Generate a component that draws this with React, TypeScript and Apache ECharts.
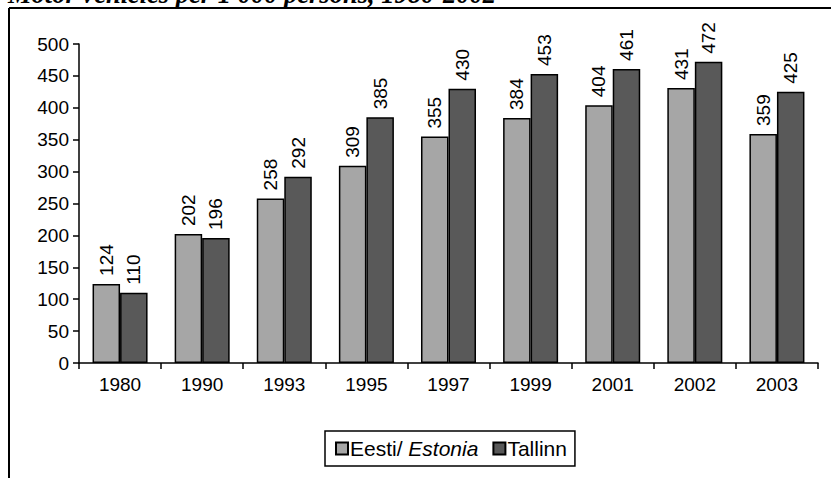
import React, { useEffect, useRef } from "react";
import * as echarts from "echarts";

const categories = ["1980", "1990", "1993", "1995", "1997", "1999", "2001", "2002", "2003"];
const estonia = [124, 202, 258, 309, 355, 384, 404, 431, 359];
const tallinn = [110, 196, 292, 385, 430, 453, 461, 472, 425];
const yTicks = { min: 0, max: 500, interval: 50 };
const titleText = "Motor vehicles per 1 000 persons, 1980-2002";

export default function App() {
  const ref = useRef<HTMLDivElement>(null);
  useEffect(() => {
    const chart = echarts.init(ref.current!, null, { renderer: "svg" });
    const font = "Liberation Sans, Arial, sans-serif";
    const fs = 19;
    const lfs = 21;
    const label = {
      show: true,
      position: "top",
      rotate: 90,
      align: "left",
      verticalAlign: "middle",
      distance: 8,
      color: "#000",
      fontSize: fs,
      fontFamily: font,
    };
    chart.setOption({
      animation: false,
      backgroundColor: "#fff",
      grid: { left: 79, top: 44, right: 13, bottom: 115 },
      graphic: [
        {
          type: "text",
          x: 8,
          y: -20,
          style: {
            text: titleText,
            font: "italic bold 26.5px 'Liberation Serif', 'Times New Roman', serif",
            fill: "#000",
          },
        },
        {
          type: "rect",
          shape: { x: 0, y: 8, width: 831, height: 2 },
          style: { fill: "#fff" },
        },
        {
          type: "line",
          shape: { x1: 9, y1: 8, x2: 831, y2: 8 },
          style: { stroke: "#000", lineWidth: 2 },
        },
        {
          type: "line",
          shape: { x1: 9, y1: 8, x2: 9, y2: 478 },
          style: { stroke: "#000", lineWidth: 2 },
        },
      ],
      legend: {
        left: 325,
        top: 431,
        padding: [7, 8, 7, 10],
        borderColor: "#000",
        borderWidth: 1.5,
        itemWidth: 12,
        itemHeight: 12,
        itemGap: 14,
        icon: "rect",
        textStyle: {
          fontSize: lfs,
          fontFamily: font,
          color: "#000",
          padding: [0, 0, 0, -3],
          rich: {
            n: { fontSize: lfs, fontFamily: font, color: "#000" },
            i: { fontSize: lfs, fontFamily: font, color: "#000", fontStyle: "italic" },
          },
        },
        formatter: (name: string) =>
          name === "Eesti/ Estonia" ? "{n|Eesti/ }{i|Estonia}" : "{n|" + name + "}",
        data: ["Eesti/ Estonia", "Tallinn"],
      },
      xAxis: {
        type: "category",
        data: categories,
        axisLine: { lineStyle: { color: "#000", width: 1.5 } },
        axisTick: { show: true, length: 6, lineStyle: { color: "#000", width: 1.5 } },
        axisLabel: { color: "#000", fontSize: fs, fontFamily: font, margin: 12 },
      },
      yAxis: {
        type: "value",
        min: yTicks.min,
        max: yTicks.max,
        interval: yTicks.interval,
        splitLine: { show: false },
        axisLine: { show: true, lineStyle: { color: "#000", width: 1.5 } },
        axisTick: { show: true, length: 6, lineStyle: { color: "#000", width: 1.5 } },
        axisLabel: { color: "#000", fontSize: fs, fontFamily: font, margin: 10 },
      },
      series: [
        {
          name: "Eesti/ Estonia",
          type: "bar",
          data: estonia,
          barGap: "0%",
          barCategoryGap: "33%",
          itemStyle: { color: "#a6a6a6", borderColor: "#000", borderWidth: 1.5 },
          label,
        },
        {
          name: "Tallinn",
          type: "bar",
          data: tallinn,
          itemStyle: { color: "#595959", borderColor: "#000", borderWidth: 1.5 },
          label,
        },
      ],
    });
    return () => chart.dispose();
  }, []);
  return (
    <div
      ref={ref}
      style={{ position: "fixed", left: 0, top: 0, width: 831, height: 478 }}
    />
  );
}
